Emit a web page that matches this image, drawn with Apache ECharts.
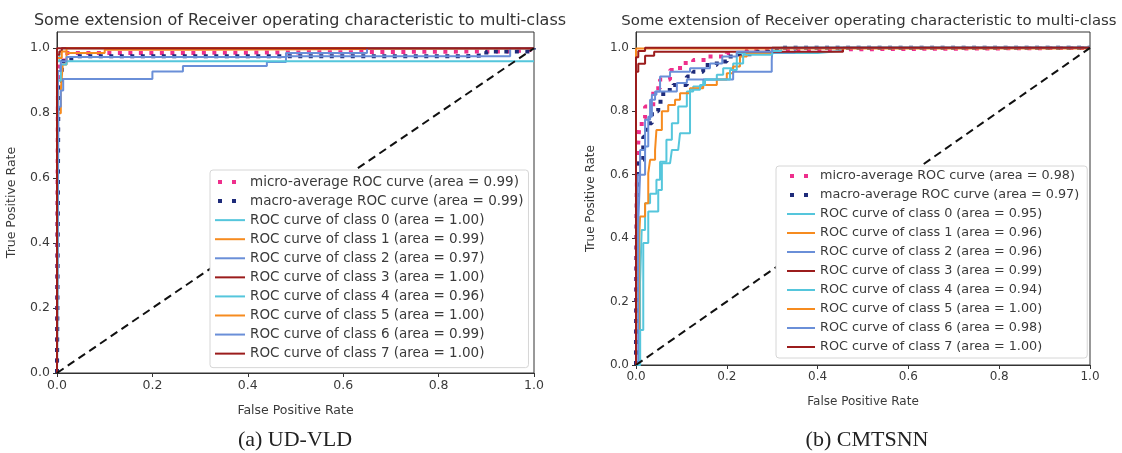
<!DOCTYPE html>
<html>
<head>
<meta charset="utf-8">
<script src="https://cdn.jsdelivr.net/npm/echarts@6/dist/echarts.min.js"></script>
<style>
html, body { margin: 0; padding: 0; background: #fff; }
#main { width: 1122px; height: 453px; }
</style>
</head>
<body>
<div id="main"></div>
<script>
/********* data: [fpr, tpr] pairs **************************************/
var ticks = [0, 0.2, 0.4, 0.6, 0.8, 1.0];

// (a) UD-VLD
var udMicro = [[0,0],[0.002,0.9],[0.006,0.96],[0.015,0.985],[0.2,0.99],[0.9,0.99],[0.95,0.995],[1,1]];
var udMacro = [[0,0],[0.003,0.9],[0.01,0.96],[0.03,0.975],[0.85,0.978],[0.9,0.99],[1,1]];
var udClass0 = [[0,0],[0,0.96],[0.005,0.99],[0.01,1],[1,1]];
var udClass1 = [[0,0],[0.002,0.8],[0.008,0.87],[0.012,0.95],[0.02,0.985],[0.1,0.995],[0.3,1],[1,1]];
var udClass2 = [[0,0],[0.003,0.82],[0.008,0.87],[0.013,0.905],[0.2,0.928],[0.264,0.945],[0.44,0.958],[0.48,0.975],[0.95,1],[1,1]];
var udClass3 = [[0,0],[0,0.98],[0.005,0.99],[0.01,1],[1,1]];
var udClass4 = [[0,0],[0.002,0.9],[0.008,0.95],[0.02,0.96],[1,0.96]];
var udClass5 = [[0,0],[0,0.97],[0.01,0.99],[0.02,1],[1,1]];
var udClass6 = [[0,0],[0.002,0.93],[0.008,0.96],[0.02,0.973],[0.48,0.985],[0.65,1],[1,1]];
var udClass7 = [[0,0],[0,1],[1,1]];
var udAreas = ['1.00','0.99','0.97','1.00','0.96','1.00','0.99','1.00'];
var udMicroArea = '0.99', udMacroArea = '0.99';

// (b) CMTSNN
var cmMicro = [[0,0],[0,0.05],[0.002,0.6],[0.005,0.7],[0.007,0.75],[0.0125,0.778],[0.02,0.815],[0.038,0.873],[0.053,0.9],[0.075,0.93],[0.097,0.952],[0.126,0.962],[0.156,0.973],[0.2,0.984],[0.244,0.994],[0.3,1],[1,1]];
var cmMacro = [[0,0],[0.002,0.55],[0.005,0.647],[0.016,0.72],[0.023,0.762],[0.035,0.8],[0.049,0.83],[0.06,0.867],[0.082,0.883],[0.112,0.91],[0.126,0.925],[0.148,0.946],[0.178,0.957],[0.2,0.973],[0.229,0.98],[0.266,0.988],[0.31,1],[1,1]];
var cmClass0 = [[0,0],[0.009,0.26],[0.0125,0.426],[0.02,0.51],[0.031,0.54],[0.045,0.584],[0.053,0.641],[0.067,0.71],[0.079,0.762],[0.093,0.815],[0.112,0.862],[0.126,0.878],[0.148,0.9],[0.178,0.915],[0.192,0.936],[0.214,0.951],[0.222,0.984],[0.4,0.99],[0.45,1],[1,1]];
var cmClass1 = [[0,0],[0.007,0.405],[0.009,0.468],[0.02,0.51],[0.027,0.604],[0.031,0.647],[0.042,0.678],[0.045,0.741],[0.057,0.8],[0.071,0.82],[0.086,0.836],[0.097,0.857],[0.119,0.873],[0.148,0.883],[0.178,0.9],[0.2,0.92],[0.214,0.941],[0.229,0.973],[0.244,0.984],[0.3,1],[1,1]];
var cmClass2 = [[0,0],[0.005,0.45],[0.009,0.6],[0.02,0.689],[0.027,0.783],[0.035,0.852],[0.045,0.862],[0.09,0.889],[0.112,0.9],[0.207,0.9],[0.214,0.925],[0.299,0.93],[0.299,0.962],[0.3,0.985],[0.35,1],[1,1]];
var cmClass3 = [[0,0],[0,0.925],[0.005,0.95],[0.02,0.975],[0.04,0.988],[0.456,0.988],[0.456,1],[1,1]];
var cmClass4 = [[0,0],[0.009,0.11],[0.016,0.385],[0.027,0.484],[0.042,0.484],[0.049,0.552],[0.057,0.636],[0.075,0.636],[0.079,0.678],[0.093,0.678],[0.097,0.731],[0.112,0.731],[0.119,0.783],[0.119,0.868],[0.141,0.883],[0.152,0.9],[0.192,0.9],[0.207,0.93],[0.222,0.951],[0.236,0.978],[0.3,0.99],[0.32,1],[1,1]];
var cmClass5 = [[0,0],[0,0.998],[1,1]];
var cmClass6 = [[0,0],[0.004,0.6],[0.009,0.678],[0.02,0.773],[0.031,0.836],[0.042,0.862],[0.053,0.91],[0.075,0.925],[0.119,0.936],[0.163,0.951],[0.19,0.973],[0.222,0.988],[0.3,1],[1,1]];
var cmClass7 = [[0,0],[0,0.97],[0.005,0.99],[0.02,1],[1,1]];
var cmAreas = ['0.95','0.96','0.96','0.99','0.94','1.00','0.98','1.00'];
var cmMicroArea = '0.98', cmMacroArea = '0.97';

var diagonal = [[0,0],[1,1]];
var classColors = ['#55c6dc', '#f68b1f', '#6a8fd8', '#9b1c1c', '#55c6dc', '#f68b1f', '#6a8fd8', '#9b1c1c'];
var microColor = '#ee2f8c', macroColor = '#1e2b7a';

/********* helpers *****************/
function curve(name, data, idx, color, dotted) {
    return {
        name: name,
        type: 'line',
        xAxisIndex: idx,
        yAxisIndex: idx,
        data: data,
        step: 'end',
        symbol: 'none',
        silent: true,
        lineStyle: {
            color: color,
            width: dotted ? 4 : 2,
            type: dotted ? [4, 6.5] : 'solid',
            cap: 'butt'
        },
        itemStyle: { color: color }
    };
}

function buildSeries(idx, micro, macro, microArea, macroArea, classes, areas) {
    var list = [];
    var names = [];
    var n1 = 'micro-average ROC curve (area = ' + microArea + ')';
    var n2 = 'macro-average ROC curve (area = ' + macroArea + ')';
    list.push(curve(n1, micro, idx, microColor, true));
    list.push(curve(n2, macro, idx, macroColor, true));
    // dotted legend handles: two square dots
    var dotHandle = { width: 4, type: [4, 10], dashOffset: 11, cap: 'butt' };
    names.push({ name: n1, lineStyle: dotHandle });
    names.push({ name: n2, lineStyle: dotHandle });
    for (var i = 0; i < classes.length; i++) {
        var nm = 'ROC curve of class ' + i + ' (area = ' + areas[i] + ')';
        list.push(curve(nm, classes[i], idx, classColors[i], false));
        names.push(nm);
    }
    list.push({
        name: 'diag' + idx,
        type: 'line',
        xAxisIndex: idx,
        yAxisIndex: idx,
        data: diagonal,
        symbol: 'none',
        silent: true,
        lineStyle: { color: '#111', width: 2, type: [8, 5] }
    });
    return { series: list, names: names };
}

var left = buildSeries(0, udMicro, udMacro, udMicroArea, udMacroArea,
    [udClass0, udClass1, udClass2, udClass3, udClass4, udClass5, udClass6, udClass7], udAreas);
var right = buildSeries(1, cmMicro, cmMacro, cmMicroArea, cmMacroArea,
    [cmClass0, cmClass1, cmClass2, cmClass3, cmClass4, cmClass5, cmClass6, cmClass7], cmAreas);

function xAx(idx, fs) {
    return {
        type: 'value', gridIndex: idx, min: 0, max: 1,
        name: 'False Positive Rate', nameLocation: 'middle', nameGap: 31,
        nameTextStyle: { fontFamily: 'DejaVu Sans', fontSize: fs, color: '#3a3a3a' },
        axisLine: { show: true, lineStyle: { color: '#333', width: 1 } },
        axisTick: { show: true, inside: false, length: 4, lineStyle: { color: '#333' }, customValues: ticks },
        axisLabel: { fontFamily: 'DejaVu Sans', fontSize: fs, color: '#3a3a3a', margin: 6,
                     customValues: ticks, formatter: function (v) { return v.toFixed(1); } },
        splitLine: { show: false }
    };
}
function yAx(idx, fs) {
    return {
        type: 'value', gridIndex: idx, min: 0, max: 1.05,
        name: 'True Positive Rate', nameLocation: 'middle', nameGap: 39,
        nameTextStyle: { fontFamily: 'DejaVu Sans', fontSize: fs, color: '#3a3a3a' },
        axisLine: { show: true, lineStyle: { color: '#333', width: 1 } },
        axisTick: { show: true, inside: false, length: 4, lineStyle: { color: '#333' }, customValues: ticks },
        axisLabel: { fontFamily: 'DejaVu Sans', fontSize: fs, color: '#3a3a3a', margin: 7,
                     customValues: ticks, formatter: function (v) { return v.toFixed(1); } },
        splitLine: { show: false }
    };
}
function legendBox(names, x, y, fs, gap, pad, iconW, textGap) {
    return {
        data: names,
        orient: 'vertical',
        left: x, top: y,
        itemWidth: iconW, itemHeight: 14, itemGap: gap, itemTextGap: textGap,
        padding: pad,
        backgroundColor: '#fff',
        borderColor: '#d6d6d6', borderWidth: 1, borderRadius: 3,
        selectedMode: false,
        itemStyle: { opacity: 0 },
        textStyle: { fontFamily: 'DejaVu Sans', fontSize: fs, lineHeight: 14, color: '#3a3a3a' }
    };
}

/********* chart *****************/
var dom = document.getElementById("main");
var myChart = echarts.init(dom, null, { renderer: 'canvas' });
var option = null;
option = {
    animation: false,
    backgroundColor: '#fff',
    title: [
        { text: 'Some extension of Receiver operating characteristic to multi-class',
          left: 295, top: 8, textAlign: 'center',
          textStyle: { fontFamily: 'DejaVu Sans', fontSize: 16, fontWeight: 'normal', color: '#333' } },
        { text: 'Some extension of Receiver operating characteristic to multi-class',
          left: 864, top: 9, textAlign: 'center',
          textStyle: { fontFamily: 'DejaVu Sans', fontSize: 14.9, fontWeight: 'normal', color: '#333' } },
        { text: '(a) UD-VLD', left: 290, top: 424, textAlign: 'center',
          textStyle: { fontFamily: 'Liberation Serif', fontSize: 22, fontWeight: 'normal', color: '#222' } },
        { text: '(b) CMTSNN', left: 862, top: 424, textAlign: 'center',
          textStyle: { fontFamily: 'Liberation Serif', fontSize: 22, fontWeight: 'normal', color: '#222' } }
    ],
    grid: [
        { left: 57, top: 32, width: 477, height: 341, show: true, borderColor: '#333', borderWidth: 1, backgroundColor: '#fff' },
        { left: 636, top: 32, width: 454, height: 333, show: true, borderColor: '#333', borderWidth: 1, backgroundColor: '#fff' }
    ],
    xAxis: [xAx(0, 12.5), xAx(1, 12)],
    yAxis: [yAx(0, 12.5), yAx(1, 12)],
    legend: [
        legendBox(left.names, 210, 170, 13.5, 5.07, [5, 5, 7, 3], 30, 10),
        legendBox(right.names, 776, 166, 12.8, 5, [3, 8, 4, 9], 28, 8)
    ],
    series: left.series.concat(right.series)
};
if (option && typeof option === "object") {
    myChart.setOption(option, true);
}
</script>
</body>
</html>
